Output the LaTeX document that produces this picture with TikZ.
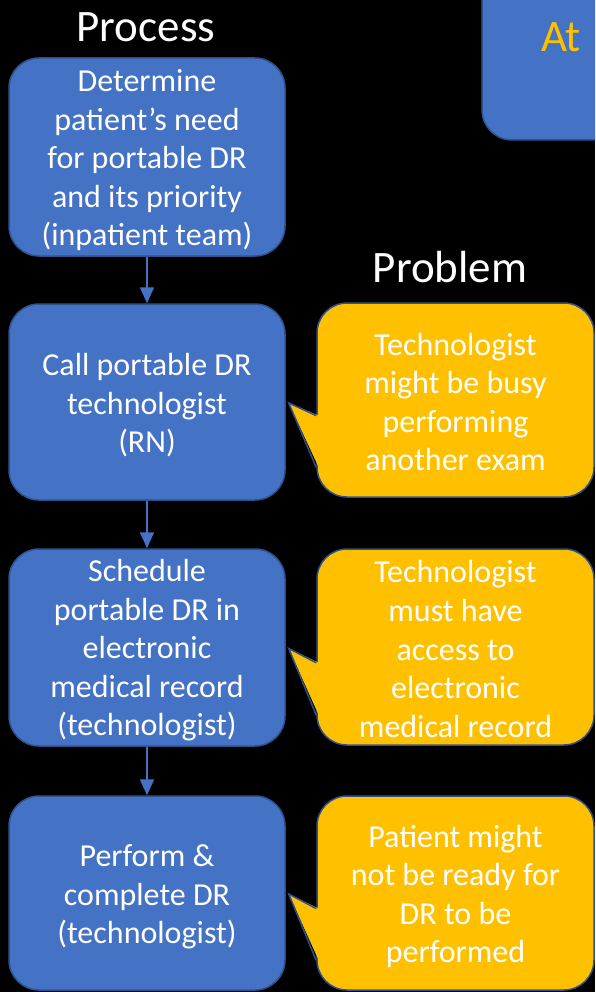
\documentclass[tikz,border=0pt]{standalone}
\usepackage{fontspec}
\setmainfont{Carlito}
\usetikzlibrary{arrows.meta,calc}
\definecolor{pblue}{HTML}{4472C4}
\definecolor{pborder}{HTML}{2F528F}
\definecolor{pyellow}{HTML}{FFC000}
\newcommand\calltail[2]{%
  \coordinate (#2-tip) at ($(#1.east)+(3,1)$);
  \coordinate (#2-a) at ($(#2.north west)!0.58!(#2.south west)$);
  \coordinate (#2-b) at ($(#2.north west)!0.845!(#2.south west)$);
  \fill[pyellow] (#2-tip) -- ($(#2-a)+(2.5,0)$) -- ($(#2-b)+(2.5,0)$) -- cycle;
  \draw[pborder, line width=1.5pt, line join=miter] (#2-a) -- (#2-tip) -- (#2-b);}
\begin{document}
\begin{tikzpicture}[x=1pt,y=-1pt,
  stepbox/.style={draw=pborder, line width=1.5pt, fill=pblue, rounded corners=30pt,
    minimum width=276pt, inner sep=0pt},
  probbox/.style={stepbox, fill=pyellow, minimum width=277pt},
  boxtext/.style={inner sep=0pt, align=center, text=white,
    font=\fontsize{32}{38.5}\selectfont},
  titletext/.style={text=white, inner sep=0pt, font=\fontsize{45}{54}\selectfont},
  flow/.style={draw=pblue, line width=1.5pt, -{Triangle[length=16pt,width=14pt]}}]
\fill[black] (0,0) rectangle (595,992);
\useasboundingbox (0,0) rectangle (595,992);
\clip (0,0) rectangle (595,992);

\node[titletext] (ptitle) at (146,27) {Process};
\node[titletext] (qtitle) at (450,267) {Problem};

\node[draw=pborder, fill=pblue, line width=1.5pt, rounded corners=30pt,
  minimum width=170pt, minimum height=180pt] (atbox) at (567,50) {};
\node[text=pyellow, inner sep=0pt, font=\fontsize{45}{54}\selectfont] (attext) at (561,37) {At};

\node[stepbox, minimum height=198pt] (b1) at (147,157) {};
\node[stepbox, minimum height=196pt] (b2) at (147,402) {};
\node[stepbox, minimum height=197pt] (b3) at (147,647.5) {};
\node[stepbox, minimum height=194pt] (b4) at (147,893) {};

\node[probbox, minimum height=194pt] (c2) at (455.5,400) {};
\node[probbox, minimum height=196pt] (c3) at (455.5,647) {};
\node[probbox, minimum height=194pt] (c4) at (455.5,893) {};

\calltail{b2}{c2}
\calltail{b3}{c3}
\calltail{b4}{c4}

\node[boxtext] (b1t) at ($(b1)+(0,3.5)$)
  {Determine\\patient’s need\\for portable DR\\and its priority\\(inpatient team)};
\node[boxtext] (b2t) at ($(b2)+(0,3.5)$)
  {Call portable DR\\technologist\\(RN)};
\node[boxtext] (b3t) at ($(b3)+(0,3)$)
  {Schedule\\portable DR in\\electronic\\medical record\\(technologist)};
\node[boxtext] (b4t) at ($(b4)+(0,4)$)
  {Perform \&\\complete DR\\(technologist)};
\node[boxtext] (c2t) at ($(c2)+(0,2)$)
  {Technologist\\might be busy\\performing\\another exam};
\node[boxtext] (c3t) at ($(c3)+(0,2)$)
  {Technologist\\must have\\access to\\electronic\\medical record};
\node[boxtext] (c4t) at ($(c4)+(0,3.5)$)
  {Patient might\\not be ready for\\DR to be\\performed};

\draw[flow] (b1.south) -- (b2.north);
\draw[flow] (b2.south) -- (b3.north);
\draw[flow] (b3.south) -- (b4.north);
\end{tikzpicture}
\end{document}
